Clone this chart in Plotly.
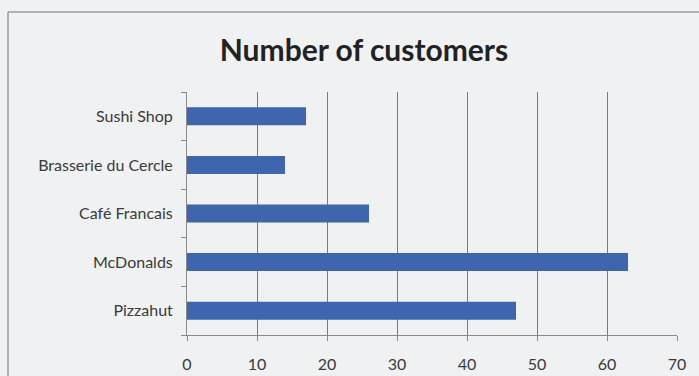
import plotly.graph_objects as go

categories = ["Pizzahut", "McDonalds", "Café Francais", "Brasserie du Cercle", "Sushi Shop"]
customers = [47, 63, 26, 14, 17]
x_ticks = [0, 10, 20, 30, 40, 50, 60, 70]

W, H = 699, 376
L, R, T, B = 187, 22, 92, 41
PW, PH = W - L - R, H - T - B

fig = go.Figure(go.Bar(
    x=customers, y=categories, orientation="h",
    marker=dict(color="#3E65AD", line=dict(width=0)),
    width=0.37,
))

def px_x(p):
    return (p - L) / PW

def px_y(p):
    return (H - B - p) / PH

fig.update_layout(
    width=W, height=H,
    margin=dict(l=L, r=R, t=T, b=B, autoexpand=False),
    paper_bgcolor="#EFF1F3",
    plot_bgcolor="#EFF1F3",
    showlegend=False,
    font=dict(family="Lato", color="#3A3A3A", size=16),
    title=dict(text="<b>Number of customers</b>", x=364 / W, xanchor="center",
               y=1 - 50 / H, yanchor="middle",
               font=dict(family="Lato", size=30, color="#222222")),
    xaxis=dict(range=[0, 70], tickvals=x_ticks, ticktext=[str(v) for v in x_ticks],
               showgrid=True, gridcolor="#7A7A7A", gridwidth=1,
               showline=True, linecolor="#8A8A8A", linewidth=1,
               ticks="outside", ticklen=5, tickcolor="#8A8A8A",
               tickfont=dict(size=16, color="#3A3A3A"), zeroline=False,
               ticklabelstandoff=10),
    yaxis=dict(categoryorder="array", categoryarray=categories,
               showgrid=False, showline=True, linecolor="#8A8A8A", linewidth=1,
               ticks="outside", tickson="boundaries", ticklen=5, tickcolor="#8A8A8A",
               tickfont=dict(size=16, color="#3A3A3A"), ticklabelstandoff=10),
    shapes=[
        dict(type="line", xref="paper", yref="paper",
             x0=px_x(8), x1=px_x(W + 2), y0=px_y(12), y1=px_y(12),
             line=dict(color="#9A9A9A", width=1.5), layer="below"),
        dict(type="line", xref="paper", yref="paper",
             x0=px_x(8), x1=px_x(8), y0=px_y(12), y1=px_y(H + 2),
             line=dict(color="#9A9A9A", width=1.5), layer="below"),
    ],
)

fig.write_html("out.html")
